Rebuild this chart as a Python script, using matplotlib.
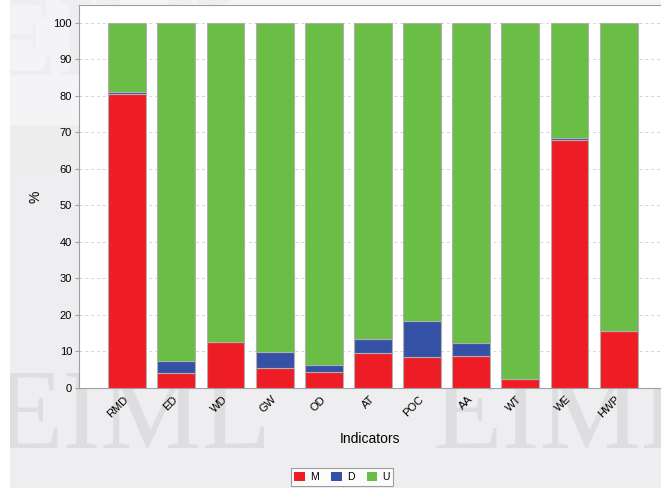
import matplotlib
matplotlib.use("Agg")
import matplotlib.pyplot as plt
from matplotlib.patches import Rectangle, Patch
import matplotlib.transforms as mtransforms
import numpy as np

plt.rcParams['font.family'] = ['Liberation Sans', 'DejaVu Sans']

# indicators and shares (%) of M / D / U
indicators = ['RMD', 'ED', 'WD', 'GW', 'OD', 'AT', 'POC', 'AA', 'WT', 'WE', 'HWP']
m_vals = [80.4, 4.0, 12.6, 5.4, 4.3, 9.5, 8.5, 8.9, 2.6, 67.8, 15.7]
d_vals = [0.8, 3.5, 0.0, 4.5, 2.1, 3.8, 9.9, 3.4, 0.0, 0.8, 0.0]
u_vals = [18.8, 92.5, 87.4, 90.1, 93.6, 86.7, 81.6, 87.7, 97.4, 31.4, 84.3]

red = '#ee1c24'
blue = '#3551a6'
green = '#6abd45'
edge = '#b0b0b0'

W, H = 661, 488
fig = plt.figure(figsize=(W / 100, H / 100), dpi=100)
fig.patch.set_facecolor('#eeedef')
# lighter band at the top, white strip on the left edge
fig.patches.append(Rectangle((0, 1 - 125 / H), 1, 125 / H, transform=fig.transFigure,
                             facecolor='#f4f4f6', edgecolor='none', zorder=-3))
fig.patches.append(Rectangle((0, 1 - 173 / H), 1, 48 / H, transform=fig.transFigure,
                             facecolor='#ecedec', edgecolor='none', zorder=-3))
fig.patches.append(Rectangle((0, 0), 10 / W, 1, transform=fig.transFigure,
                             facecolor='white', edgecolor='none', zorder=-1))

# faint watermark behind the plot
wm = dict(fontsize=82, family='Liberation Serif', color='#dedee0', zorder=-2,
          va='baseline', ha='left')
fig.text(-0.01, 1 - 448 / H, 'EIML', **wm)
fig.text(0.655, 1 - 448 / H, 'EIML', **wm)
fig.text(-0.02, 1 - 75 / H, 'EIML', alpha=0.25, **wm)

ax = fig.add_axes([79 / W, 1 - 388 / H, 1 - 79 / W, 383 / H])
ax.set_facecolor('white')
x = np.arange(len(indicators))
m = np.array(m_vals)
d = np.array(d_vals)
u = np.array(u_vals)
w = 0.77
ax.bar(x, m, w, color=red, edgecolor=edge, linewidth=0.8, zorder=3)
ax.bar(x, d, w, bottom=m, color=blue, edgecolor=edge, linewidth=0.8, zorder=3)
ax.bar(x, u, w, bottom=m + d, color=green, edgecolor=edge, linewidth=0.8, zorder=3)

ax.set_xlim(-0.98, 10.86)
ax.set_ylim(0, 104.9)
ax.set_yticks(range(0, 101, 10))
ax.set_xticks(x)
ax.set_xticklabels(indicators, rotation=45, ha='right', va='center', rotation_mode='anchor')
shift = mtransforms.ScaledTranslation(8 / 72, 0, fig.dpi_scale_trans)
for lbl in ax.get_xticklabels():
    lbl.set_transform(lbl.get_transform() + shift)
ax.tick_params(axis='x', length=0, labelsize=8, pad=7)
ax.tick_params(axis='y', length=3, labelsize=8, color='#a0a0a0', pad=2)
ax.yaxis.grid(True, linestyle=(0, (3, 3)), color='#d4d4d4', linewidth=0.7, zorder=0)
for s in ['left', 'bottom', 'top']:
    ax.spines[s].set_color('#a0a0a0')
ax.spines['right'].set_visible(False)

ax.set_ylabel('%', fontsize=10, labelpad=8)
ax.set_xlabel('Indicators', fontsize=10, labelpad=9)

handles = [Patch(facecolor=c, edgecolor='none') for c in (red, blue, green)]
leg = fig.legend(handles, ['M', 'D', 'U'], loc='center', bbox_to_anchor=(342 / W, 1 - 477 / H),
                 ncol=3, fontsize=7.5, frameon=True, fancybox=False,
                 handlelength=1.0, handleheight=1.0, columnspacing=1.2,
                 handletextpad=0.5, borderpad=0.35, borderaxespad=0)
leg.get_frame().set_edgecolor('#888888')
leg.get_frame().set_linewidth(0.8)
leg.get_frame().set_facecolor('white')

fig.savefig('out.png', dpi=100, facecolor=fig.get_facecolor())
